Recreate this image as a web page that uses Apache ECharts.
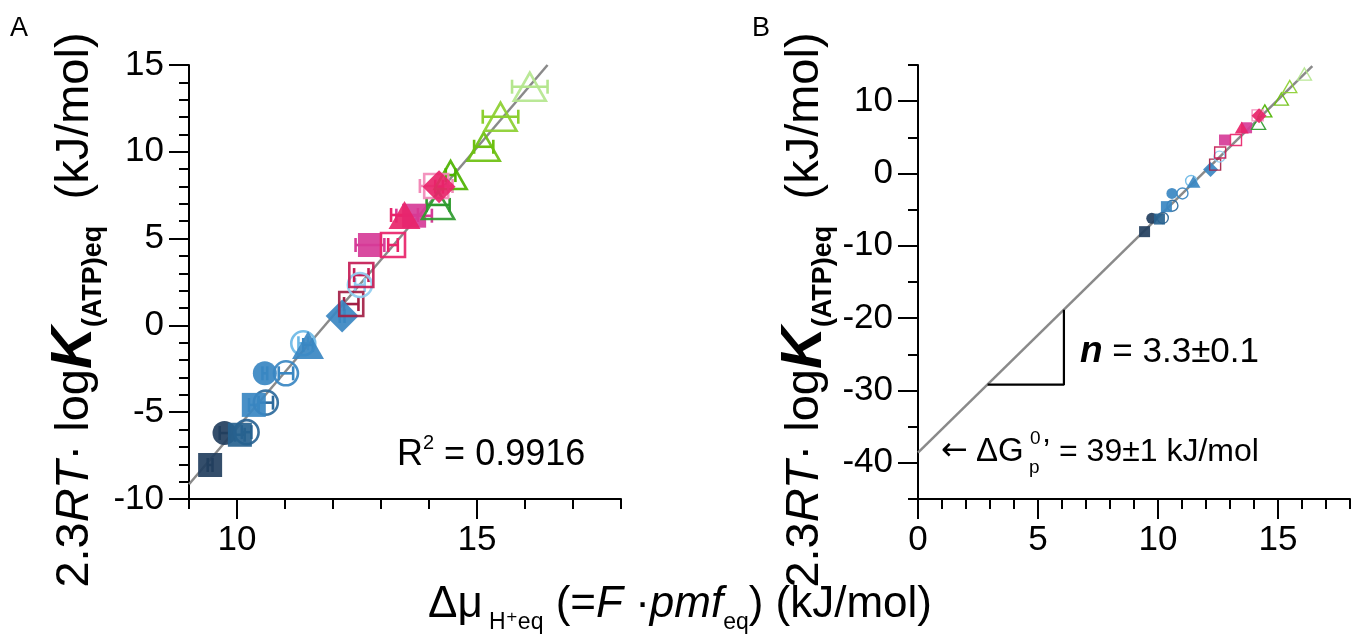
<!DOCTYPE html>
<html>
<head>
<meta charset="utf-8">
<title>ATP equilibrium vs pmf</title>
<script src="https://cdn.jsdelivr.net/npm/echarts@6/dist/echarts.min.js"></script>
<style>
  html, body { margin: 0; padding: 0; background: #fff; }
  #main { width: 1356px; height: 637px; }
</style>
</head>
<body>
<div id="main"></div>
<script>
// measured values, one entry per data point (same order in every array)
var deltaMu    = [9.44, 9.74, 10.20, 10.06, 10.60, 10.35, 10.58, 11.02, 11.38, 11.48, 12.19, 12.38, 12.56,
                  12.59, 12.77, 13.25, 13.69, 13.49, 14.19, 14.45, 14.15, 14.21, 15.14, 15.49, 16.10];
var deltaMuErr = [0.05, 0.10, 0.10, 0.10, 0.15, 0.10, 0.05, 0.15, 0.10, 0.10, 0.05, 0.15, 0.10,
                  0.15, 0.30, 0.10, 0.37, 0.28, 0.24, 0.10, 0.34, 0.08, 0.20, 0.37, 0.37];
var rtLogK     = [-8.04, -6.20, -6.15, -6.30, -4.45, -4.58, -2.76, -2.76, -1.03, -1.13, 0.54, 1.23, 2.33,
                  2.90, 4.63, 4.63, 6.32, 6.36, 6.94, 8.66, 8.03, 7.99, 10.29, 12.02, 13.75];

// regression line and slope triangle
var fitLineA = [[9.0, -9.15], [16.47, 15.0]];
var fitLineB = [[0, -38.6], [16.43, 14.85]];
var slopeTriangle = [[2.9, -29.2], [6.08, -29.2], [6.08, -18.85]];

// axis ticks
var xTicksA = [10, 15];
var xTicksB = [0, 5, 10, 15];
var yTicksB = [-40, -30, -20, -10, 0, 10];

// marker look per point
var markerShape = ['rect', 'circle', 'circle', 'rect', 'circle', 'rect', 'circle', 'circle', 'circle', 'triangle',
                   'diamond', 'rect', 'circle', 'rect', 'rect', 'rect', 'rect', 'triangle', 'triangle', 'triangle',
                   'rect', 'diamond', 'triangle', 'triangle', 'triangle'];
var markerColor = ['#233f5e', '#233f5e', '#2a6494', '#27628f', '#2d6a9c', '#3a87c2', '#3a87c2', '#3a87c2', '#6cb8e6', '#3a87c2',
                   '#3a87c2', '#a31f45', '#8fcdf0', '#c41c55', '#d63c98', '#e8246a', '#d63c98', '#e8246a', '#2e9b2e', '#4db300',
                   '#f28ab8', '#e8246a', '#6cc010', '#8ccf30', '#b4e68e'];
var markerOpen  = [0, 0, 1, 0, 1, 0, 0, 1, 1, 0,
                   0, 1, 1, 1, 0, 1, 0, 0, 1, 1,
                   1, 0, 1, 1, 1];

var FONT = '"Liberation Sans", Arial, Helvetica, sans-serif';

function symSize(shape, big) {
    if (shape === 'triangle') return big ? [32, 28] : [14, 12];
    if (shape === 'diamond') return big ? 33 : 15;
    return big ? 24 : 11;
}

function scatterData(big) {
    return deltaMu.map(function (x, i) {
        var c = markerColor[i];
        var open = markerOpen[i] === 1;
        return {
            value: [x, rtLogK[i]],
            symbol: markerShape[i],
            symbolSize: symSize(markerShape[i], big),
            itemStyle: {
                color: open ? 'rgba(255,255,255,0)' : c,
                borderColor: c,
                borderWidth: open ? (big ? 2.6 : 1.4) : 0,
                opacity: 0.92
            }
        };
    });
}

function valueAxis(extra) {
    var base = {
        type: 'value',
        axisLine: { show: true, onZero: false, lineStyle: { color: '#000', width: 2 } },
        axisTick: { show: true, length: 20, lineStyle: { color: '#000', width: 2 } },
        axisLabel: { color: '#000', fontSize: 35, fontFamily: FONT, margin: 25 },
        splitLine: { show: false }
    };
    for (var k in extra) {
        if (typeof extra[k] === 'object' && base[k] && !Array.isArray(extra[k])) {
            base[k] = Object.assign({}, base[k], extra[k]);
        } else {
            base[k] = extra[k];
        }
    }
    return base;
}

// rotated y title, same for both panels
var yTitleRich = {
    n: { fontSize: 47, fontFamily: FONT, lineHeight: 64 },
    i: { fontSize: 47, fontFamily: FONT, fontStyle: 'italic', lineHeight: 64 },
    k: { fontSize: 58, fontFamily: FONT, fontStyle: 'italic', fontWeight: 'bold', lineHeight: 64 },
    s: { fontSize: 27, fontFamily: FONT, fontWeight: 'bold', lineHeight: 27, verticalAlign: 'bottom' }
};
var yTitleText = '{n|2.3}{i|RT}{n|· log}{k|K}{s|(ATP)eq}{n|  (kJ/mol)}';

var chart = echarts.init(document.getElementById('main'));

chart.setOption({
    animation: false,
    backgroundColor: '#fff',
    grid: [
        { left: 189, top: 65, width: 432, height: 434, outerBoundsMode: 'none' },
        { left: 918, top: 65, width: 432, height: 434, outerBoundsMode: 'none' }
    ],
    xAxis: [
        valueAxis({ gridIndex: 0, min: 9, max: 18, position: 'bottom',
            axisTick: { customValues: xTicksA }, axisLabel: { customValues: xTicksA, margin: 24 } }),
        valueAxis({ gridIndex: 0, min: 9, max: 18, interval: 1, position: 'bottom',
            axisLine: { show: false }, axisTick: { length: 10 }, axisLabel: { show: false } }),
        valueAxis({ gridIndex: 1, min: 0, max: 18, position: 'bottom',
            axisTick: { customValues: xTicksB }, axisLabel: { customValues: xTicksB, margin: 24 } }),
        valueAxis({ gridIndex: 1, min: 0, max: 18, interval: 1, position: 'bottom',
            axisLine: { show: false }, axisTick: { length: 10 }, axisLabel: { show: false } })
    ],
    yAxis: [
        valueAxis({ gridIndex: 0, min: -10, max: 15, interval: 5, position: 'left',
            minorTick: { show: true, splitNumber: 5, length: 10, lineStyle: { color: '#000', width: 2 } } }),
        valueAxis({ gridIndex: 1, min: -45, max: 15, position: 'left',
            axisTick: { customValues: yTicksB }, axisLabel: { customValues: yTicksB } }),
        valueAxis({ gridIndex: 1, min: -45, max: 15, interval: 5, position: 'left',
            axisLine: { show: false }, axisTick: { length: 10 }, axisLabel: { show: false } })
    ],
    series: [
        {
            type: 'line', xAxisIndex: 0, yAxisIndex: 0, data: fitLineA, symbol: 'none', z: 1,
            lineStyle: { color: '#8a8a8a', width: 2.5 }
        },
        {
            type: 'custom', xAxisIndex: 0, yAxisIndex: 0, z: 2,
            data: deltaMu.map(function (x, i) { return [x, rtLogK[i], deltaMuErr[i]]; }),
            renderItem: function (params, api) {
                var x = api.value(0), y = api.value(1), e = api.value(2);
                var p1 = api.coord([x - e, y]);
                var p2 = api.coord([x + e, y]);
                var st = { stroke: markerColor[params.dataIndex], lineWidth: 2.6 };
                var cap = 7;
                return {
                    type: 'group',
                    children: [
                        { type: 'line', shape: { x1: p1[0], y1: p1[1], x2: p2[0], y2: p2[1] }, style: st },
                        { type: 'line', shape: { x1: p1[0], y1: p1[1] - cap, x2: p1[0], y2: p1[1] + cap }, style: st },
                        { type: 'line', shape: { x1: p2[0], y1: p2[1] - cap, x2: p2[0], y2: p2[1] + cap }, style: st }
                    ]
                };
            }
        },
        {
            type: 'scatter', xAxisIndex: 0, yAxisIndex: 0, z: 3,
            data: scatterData(true)
        },
        {
            type: 'line', xAxisIndex: 2, yAxisIndex: 1, data: fitLineB, symbol: 'none', z: 1,
            lineStyle: { color: '#8a8a8a', width: 2.5 }
        },
        {
            type: 'line', xAxisIndex: 2, yAxisIndex: 1, data: slopeTriangle, symbol: 'none', z: 1,
            lineStyle: { color: '#000', width: 2.2 }
        },
        {
            type: 'scatter', xAxisIndex: 2, yAxisIndex: 1, z: 3,
            data: scatterData(false)
        }
    ],
    graphic: [
        { type: 'text', x: 10, y: 15, style: { text: 'A', font: '27px ' + FONT, fill: '#000' } },
        { type: 'text', x: 752, y: 15, style: { text: 'B', font: '27px ' + FONT, fill: '#000' } },
        {
            type: 'text', x: 75, y: 310, rotation: Math.PI / 2,
            style: { text: yTitleText, align: 'center', verticalAlign: 'middle', fill: '#000', rich: yTitleRich }
        },
        {
            type: 'text', x: 805, y: 310, rotation: Math.PI / 2,
            style: { text: yTitleText, align: 'center', verticalAlign: 'middle', fill: '#000', rich: yTitleRich }
        },
        {
            type: 'text', x: 680, y: 605,
            style: {
                text: '{n|Δμ}{s| H⁺eq}{n| (=}{i|F}{n| ·}{i|pmf}{s|eq}{n|) (kJ/mol)}',
                align: 'center', verticalAlign: 'middle', fill: '#000',
                rich: {
                    n: { fontSize: 44, fontFamily: FONT, lineHeight: 58 },
                    i: { fontSize: 44, fontFamily: FONT, fontStyle: 'italic', lineHeight: 58 },
                    s: { fontSize: 23, fontFamily: FONT + ', "DejaVu Sans"', lineHeight: 23, verticalAlign: 'bottom' }
                }
            }
        },
        {
            type: 'text', x: 397, y: 455,
            style: {
                text: '{n|R}{p|2}{n| = 0.9916}',
                align: 'left', verticalAlign: 'middle', fill: '#000',
                rich: {
                    n: { fontSize: 36, fontFamily: FONT, lineHeight: 44 },
                    p: { fontSize: 20, fontFamily: FONT, lineHeight: 22, verticalAlign: 'top' }
                }
            }
        },
        {
            type: 'text', x: 1080, y: 352,
            style: {
                text: '{b|n}{n| = 3.3±0.1}',
                align: 'left', verticalAlign: 'middle', fill: '#000',
                rich: {
                    b: { fontSize: 37, fontFamily: FONT, fontStyle: 'italic', fontWeight: 'bold', lineHeight: 44 },
                    n: { fontSize: 35, fontFamily: FONT, lineHeight: 44 }
                }
            }
        },
        {
            type: 'text', x: 941, y: 452,
            style: { text: '←', font: '32px "DejaVu Sans"', fill: '#000', align: 'left', verticalAlign: 'middle' }
        },
        {
            type: 'text', x: 976, y: 452,
            style: { text: 'ΔG', font: '33px ' + FONT, fill: '#000', align: 'left', verticalAlign: 'middle' }
        },
        {
            type: 'text', x: 1030, y: 439,
            style: { text: '0', font: '19px ' + FONT, fill: '#000', align: 'left', verticalAlign: 'middle' }
        },
        {
            type: 'text', x: 1029, y: 468,
            style: { text: 'p', font: '19px ' + FONT, fill: '#000', align: 'left', verticalAlign: 'middle' }
        },
        {
            type: 'text', x: 1043, y: 452,
            style: { text: '’ = 39±1 kJ/mol', font: '32px ' + FONT, fill: '#000', align: 'left', verticalAlign: 'middle' }
        }
    ]
});
</script>
</body>
</html>
